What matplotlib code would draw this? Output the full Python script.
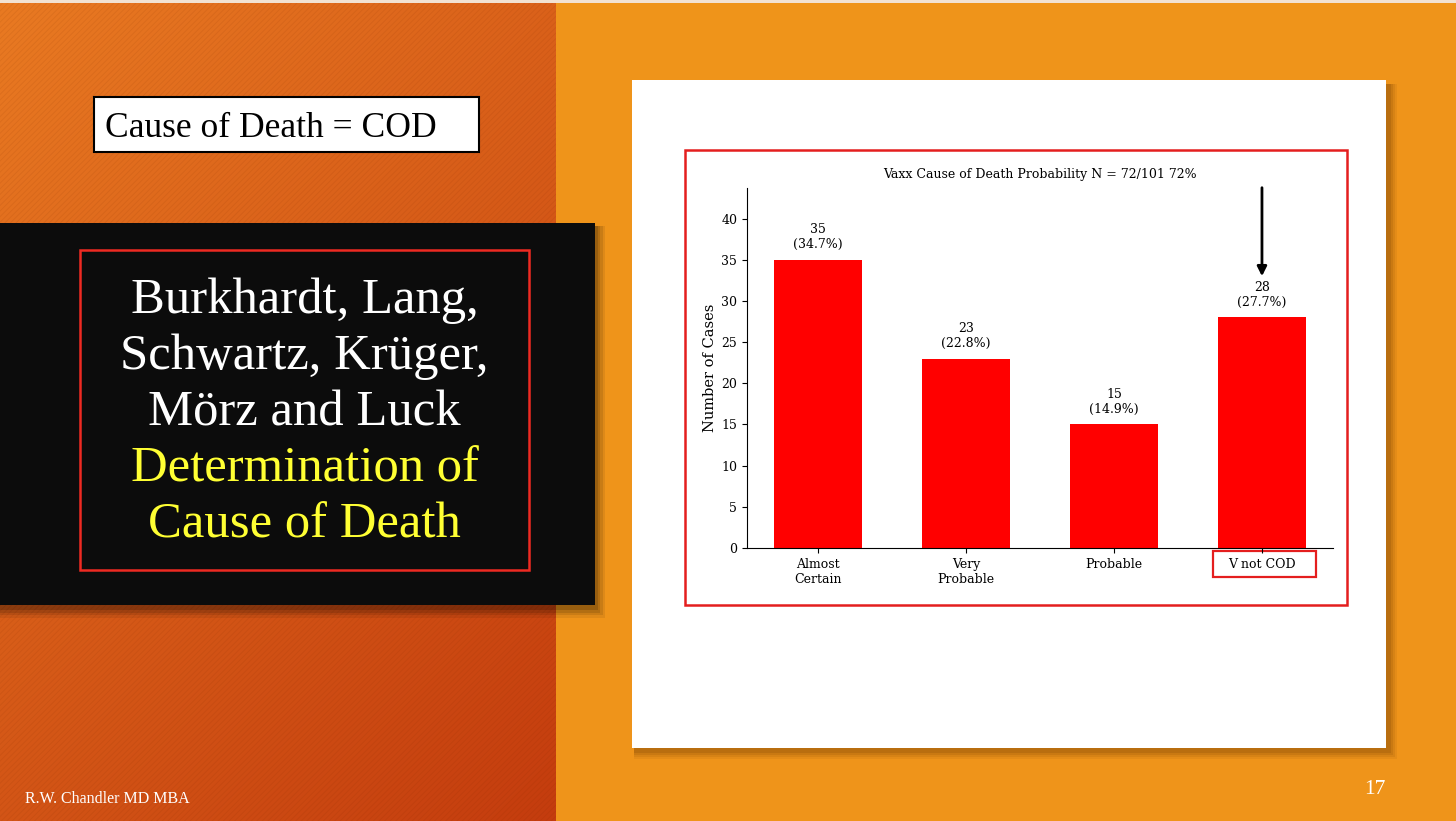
import numpy as np
import matplotlib.pyplot as plt
from matplotlib.patches import Rectangle

# chart data
categories = ["Almost\nCertain", "Very\nProbable", "Probable", "V not COD"]
cases = [35, 23, 15, 28]
total_n = 101
chart_title = "Vaxx Cause of Death Probability N = 72/101 72%"

# slide text
names_lines = ["Burkhardt, Lang,", "Schwartz, Krüger,", "Mörz and Luck"]
topic_lines = ["Determination of", "Cause of Death"]
cod_note = "Cause of Death = COD"
footer = "R.W. Chandler MD MBA"
slide_no = "17"

W, H = 1456, 821
plt.rcParams['hatch.linewidth'] = 0.6
fig = plt.figure(figsize=(W / 100, H / 100), dpi=100)
fig.patch.set_facecolor('#EF941A')

bg = fig.add_axes([0, 0, 1, 1])
bg.set_xlim(0, W)
bg.set_ylim(H, 0)
bg.axis('off')

# left panel gradient
pw = 556
yy, xx = np.mgrid[0:H, 0:pw]
t = 0.6 * yy / H + 0.4 * xx / pw
c0 = np.array([233, 122, 34]) / 255
c1 = np.array([196, 60, 14]) / 255
grad = c0[None, None, :] * (1 - t[..., None]) + c1[None, None, :] * t[..., None]
bg.imshow(grad, extent=[0, pw, H, 0], aspect='auto', zorder=0)
bg.add_patch(Rectangle((0, 0), pw, H, fill=False, hatch='//////',
                       edgecolor=(0.45, 0.15, 0.0, 0.10), lw=0, zorder=1))
bg.add_patch(Rectangle((0, 0), W, 3, color='#F2E2D2', lw=0, zorder=2))

# cause of death note
bg.add_patch(Rectangle((94, 97), 385, 55, facecolor='white', edgecolor='black', lw=1.5, zorder=3))
bg.text(105, 137, cod_note, fontsize=25.6, family='Liberation Serif', color='black',
        ha='left', va='baseline', zorder=4)

# black title box with shadow
for i, a in enumerate([0.07, 0.09, 0.11, 0.14]):
    g = 10 - 2.5 * i
    bg.add_patch(Rectangle((0, 223 + 3), 595 + g, 382 + g, color='black', alpha=a, lw=0, zorder=3))
bg.add_patch(Rectangle((0, 223), 595, 382, color='#0C0C0C', lw=0, zorder=4))
bg.add_patch(Rectangle((80, 250), 449, 320, fill=False, edgecolor='#EE2A22', lw=1.8, zorder=5))
lines = names_lines + topic_lines
colors = ['white'] * len(names_lines) + ['#FFFF33'] * len(topic_lines)
for i, (s, c) in enumerate(zip(lines, colors)):
    bg.text(304.5, 313 + 56 * i, s, fontsize=36.5, family='Liberation Serif', color=c,
            ha='center', va='baseline', zorder=6)

# white card with shadow
for i, a in enumerate([0.07, 0.09, 0.11, 0.14]):
    g = 9 - 2 * i
    bg.add_patch(Rectangle((632 + 2, 80 + 4), 754 + g, 668 + g - 2, color='#5A3000', alpha=a, lw=0, zorder=3))
bg.add_patch(Rectangle((632, 80), 754, 668, color='white', lw=0, zorder=4))
bg.add_patch(Rectangle((685, 150), 662, 455, fill=False, edgecolor='#E41E1E', lw=1.8, zorder=5))
bg.add_patch(Rectangle((1213, 551), 103, 26, fill=False, edgecolor='#E41E1E', lw=1.6, zorder=5))

bg.text(25, 803, footer, fontsize=11.5, family='Liberation Serif', color='white',
        ha='left', va='baseline', zorder=6)
bg.text(1386, 794, slide_no, fontsize=15.5, family='Liberation Serif', color='white',
        ha='right', va='baseline', zorder=6)

# bar chart
ax = fig.add_axes([747 / W, (H - 548) / H, (1333 - 747) / W, (548 - 187.7) / H])
ax.patch.set_alpha(0)
x = np.arange(len(categories))
bars = ax.bar(x, cases, width=0.6, color='red')
ax.set_ylim(0, max(cases) * 1.25)
ax.set_xticks(x)
ax.set_xticklabels(categories, family='DejaVu Serif', fontsize=9, linespacing=1.2)
ax.set_yticks(np.arange(0, 45, 5))
for lab in ax.get_yticklabels():
    lab.set_family('DejaVu Serif')
    lab.set_fontsize(9)
ax.spines['top'].set_visible(False)
ax.spines['right'].set_visible(False)
ax.set_ylabel("Number of Cases", family='DejaVu Serif', fontsize=10.5, labelpad=3)
ax.set_title(chart_title, family='DejaVu Serif', fontsize=9, pad=7)

for xi, v in zip(x, cases):
    ax.annotate(f"{v}\n({v / total_n * 100:.1f}%)", xy=(xi, v), xytext=(0, 6),
                textcoords='offset points', ha='center', va='bottom',
                family='DejaVu Serif', fontsize=9, linespacing=1.2)

ax.annotate('', xy=(x[-1], cases[-1] + 5), xytext=(x[-1], max(cases) * 1.25),
            arrowprops=dict(arrowstyle='-|>', color='black', lw=2, mutation_scale=14,
                            shrinkA=0, shrinkB=0),
            annotation_clip=False)

fig.savefig('out.png', dpi=100)
